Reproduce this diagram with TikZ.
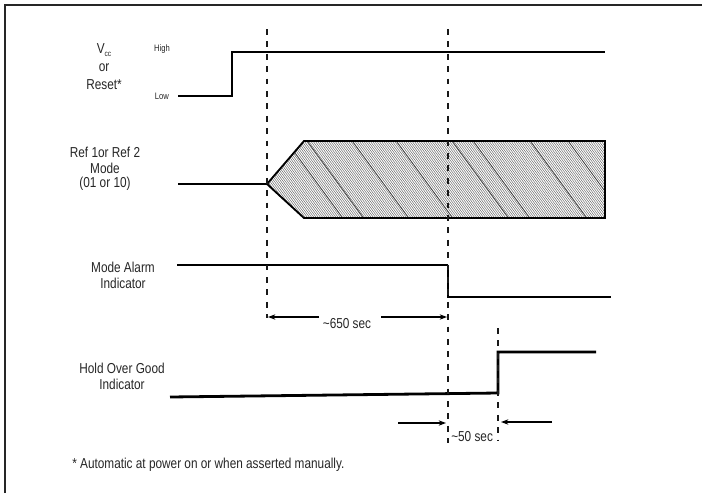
\documentclass[tikz,border=0pt]{standalone}
\usepackage{fontspec}
\setmainfont{Liberation Sans}[FakeStretch=0.82]
\usetikzlibrary{arrows.meta}
\begin{document}
\begin{tikzpicture}[x=0.75pt,y=-0.75pt,
  lbl/.style={inner sep=0pt,text=black!85,font=\fontsize{10.8}{12}\selectfont},
  small/.style={inner sep=0pt,text=black!85,font=\fontsize{7}{8}\selectfont},
  sig/.style={line width=2.1pt,line join=miter},
  thinsig/.style={line width=1.6pt},
  tick/.style={line width=1.8pt,dash pattern=on 4.3pt off 5pt,black!90},
  dim/.style={line width=0.9pt,-{Stealth[length=5.5pt,width=4pt]}},
  hatch/.style={line width=0.35pt,black!60},
  frame/.style={line width=2pt,black!85}]
\useasboundingbox (0,0) rectangle (702,493);
% frame
\draw[frame] (5,493) -- (5,5) -- (702,5);

% labels
\node[lbl] (vcc) at (104,50) {V\raisebox{-0.5ex}{\fontsize{6}{7}\selectfont cc}};
\node[lbl] (or) at (104,68) {or};
\node[lbl] (reset) at (104,85) {Reset*};
\node[small] (high) at (162,49) {High};
\node[small] (low) at (162,96) {Low};
\node[lbl] (ref1) at (105,152) {Ref 1or Ref 2};
\node[lbl] (ref2) at (105,168) {Mode};
\node[lbl] (ref3) at (105,184) {(01 or 10)};
\node[lbl] (ma1) at (123,267) {Mode Alarm};
\node[lbl] (ma2) at (123,283) {Indicator};
\node[lbl] (hg1) at (122,368) {Hold Over Good};
\node[lbl] (hg2) at (122,384) {Indicator};
\node[lbl] (t650) at (347,324) {\textasciitilde650 sec};
\node[lbl,anchor=west] (t50) at (451,437) {\textasciitilde50 sec};
\node[lbl,anchor=west] (foot) at (72,465) {* Automatic at power on or when asserted manually.};

% Vcc signal
\coordinate (v0) at (178,96);
\coordinate (v1) at (232,96);
\coordinate (v2) at (232,52);
\coordinate (v3) at (605,52);
\draw[sig] (v0) -- (v1) -- (v2) -- (v3);

% Ref mode signal
\coordinate (r0) at (178,184);
\coordinate (rp) at (267,184);
\coordinate (rtl) at (304,141);
\coordinate (rtr) at (605,141);
\coordinate (rbr) at (605,218);
\coordinate (rbl) at (304,218);
\begin{scope}
  \clip (rp) -- (rtl) -- (rtr) -- (rbr) -- (rbl) -- cycle;
  \foreach \k in {0,...,190} \draw[hatch] ({200+2.2*\k},134) -- ++(66,90);
  \foreach \x in {232,281,302,347,391,447,468,525,563} \draw[line width=0.5pt,black!75] (\x,134) -- ++(66,90);
\end{scope}
\draw[thinsig] (r0) -- (rp);
\draw[line width=1.4pt,line join=miter] (rp) -- (rtl) -- (rtr) -- (rbr) -- (rbl) -- cycle;
\draw[sig] (rtl) -- (rtr);
\draw[sig] (rbl) -- (rbr);

% Mode alarm signal
\coordinate (m0) at (177,265);
\coordinate (m1) at (448,265);
\coordinate (m2) at (448,297);
\coordinate (m3) at (611,297);
\draw[thinsig] (m0) -- (m1);
\draw[sig] (m1) -- (m2) -- (m3);

% Hold over good signal
\coordinate (h0) at (170,397);
\coordinate (h1) at (498,393);
\coordinate (h2) at (498,352);
\coordinate (h3) at (596,352);
\draw[sig] (h0) -- (h1) -- (h2) -- (h3);

% dashed markers
\coordinate (d1a) at (267,29);
\coordinate (d1b) at (267,318);
\coordinate (d2a) at (448,29);
\coordinate (d2b) at (448,443);
\coordinate (d3a) at (498,328);
\coordinate (d3b) at (498,441);
\draw[tick] (d1a) -- (d1b);
\draw[tick] (d2a) -- (d2b);
\draw[tick] (d3a) -- (d3b);

% dimension arrows
\coordinate (a1s) at (319,317);
\coordinate (a1e) at (268,317);
\coordinate (a2s) at (381,317);
\coordinate (a2e) at (447,317);
\draw[dim] (a1s) -- (a1e);
\draw[dim] (a2s) -- (a2e);
\coordinate (b1s) at (398,423);
\coordinate (b1e) at (446,423);
\coordinate (b2s) at (552,422);
\coordinate (b2e) at (501,422);
\draw[dim,line width=1.1pt] (b1s) -- (b1e);
\draw[dim,line width=1.1pt] (b2s) -- (b2e);
\end{tikzpicture}
\end{document}
